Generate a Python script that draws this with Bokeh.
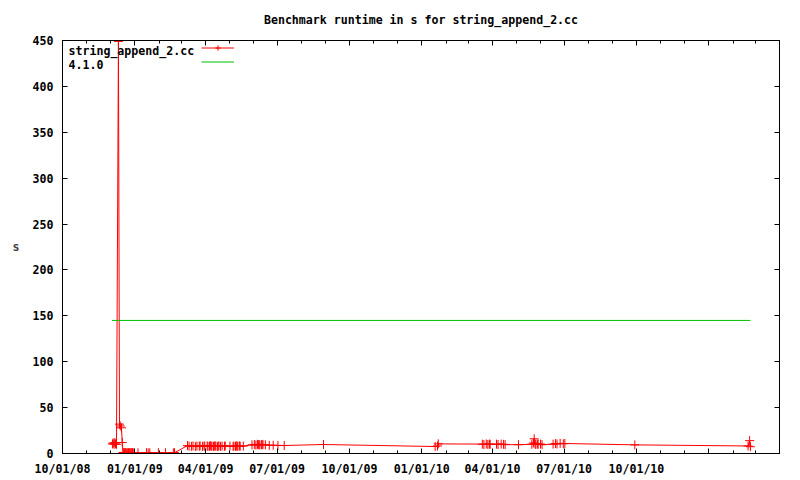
import pandas as pd
from bokeh.plotting import figure
from bokeh.models import (Range1d, FixedTicker, LinearAxis, DatetimeAxis,
                          DatetimeTickFormatter, Legend, LegendItem, Label,
                          CustomLabelingPolicy)
from bokeh.embed import file_html
from bokeh.resources import INLINE

# ---------------- data ----------------
title_text = "Benchmark runtime in s for string_append_2.cc"
series_name = "string_append_2.cc"
ref_name = "4.1.0"
y_label = "s"

run_dates = [
    "2008-12-03 12:00", "2008-12-04 12:00", "2008-12-05 12:00", "2008-12-06 12:00",
    "2008-12-07 12:00", "2008-12-08 16:00",
    "2008-12-11 04:00", "2008-12-12 12:00", "2008-12-13 12:00",
    "2008-12-15 00:00", "2008-12-16 00:00", "2008-12-17 00:00",
    "2008-12-18", "2008-12-19", "2008-12-20", "2008-12-21", "2008-12-22", "2008-12-23",
    "2008-12-24", "2008-12-25", "2008-12-26", "2008-12-27", "2008-12-28", "2008-12-29",
    "2008-12-30",
    "2009-01-05", "2009-01-15 18:00", "2009-01-18", "2009-01-20", "2009-01-31",
    "2009-02-09", "2009-02-19", "2009-02-20 12:00",
    "2009-03-09", "2009-03-11", "2009-03-14", "2009-03-16", "2009-03-19", "2009-03-21",
    "2009-03-24", "2009-03-25", "2009-03-28", "2009-03-30", "2009-03-31", "2009-04-03",
    "2009-04-04", "2009-04-06", "2009-04-07", "2009-04-08", "2009-04-09", "2009-04-11",
    "2009-04-12", "2009-04-13", "2009-04-14", "2009-04-16", "2009-04-17", "2009-04-18",
    "2009-04-20", "2009-04-22", "2009-04-25", "2009-04-26", "2009-05-02", "2009-05-06",
    "2009-05-07", "2009-05-09", "2009-05-10", "2009-05-11", "2009-05-12", "2009-05-14",
    "2009-05-15", "2009-05-19",
    "2009-05-30", "2009-06-02", "2009-06-04", "2009-06-06", "2009-06-07", "2009-06-08",
    "2009-06-09", "2009-06-11", "2009-06-12", "2009-06-13", "2009-06-16",
    "2009-06-21", "2009-06-26", "2009-07-02", "2009-07-10", "2009-08-29",
    "2010-01-18", "2010-01-21", "2010-01-22",
    "2010-03-19", "2010-03-21", "2010-03-24", "2010-03-26", "2010-03-28", "2010-03-29",
    "2010-04-06", "2010-04-08", "2010-04-12", "2010-04-15", "2010-04-17",
    "2010-05-04", "2010-05-21", "2010-05-23", "2010-05-24", "2010-05-25", "2010-05-26",
    "2010-05-28", "2010-05-29", "2010-06-01", "2010-06-03", "2010-06-17", "2010-06-20",
    "2010-06-22", "2010-06-26", "2010-06-30", "2010-07-02",
    "2010-09-29",
    "2011-02-20", "2011-02-22", "2011-02-23",
]
run_values = [
    10.5, 11.5, 10.0, 12.0,
    10.5, 10.0,
    449, 32, 30,
    28, 12, 1.2,
    0.9, 0.7, 1.0, 0.8, 0.6, 0.9,
    0.8, 1.1, 0.7, 0.9, 0.8, 1.0,
    0.7,
    0.8, 0.9, 0.7, 0.8, 0.9,
    0.8, 0.7, 0.9,
    8.6, 8.0, 7.8, 8.3, 7.6, 8.1,
    7.9, 8.4, 7.7, 8.2, 7.9, 8.3,
    7.6, 8.0, 8.5, 7.8, 8.1, 7.7,
    8.4, 7.9, 8.2, 7.6, 8.0, 8.3,
    7.8, 8.1, 7.9, 8.2, 8.0, 7.7,
    8.1, 7.9, 8.3, 7.8, 8.0, 8.2,
    7.9, 8.1,
    9.4, 9.8, 9.2, 10.0, 9.5, 9.8,
    9.3, 9.7, 9.4, 9.9, 9.5,
    8.9, 9.0, 8.8, 8.7, 9.8,
    7.6, 8.2, 10.5,
    10.2, 9.8, 10.4, 9.9, 10.3, 10.0,
    10.2, 9.8, 10.3, 10.0, 9.7,
    9.6, 10.1, 11.5, 16.0, 10.5, 9.8,
    10.4, 10.0, 10.3, 9.6, 10.2, 10.8,
    10.4, 11.0, 10.6, 10.9,
    9.4,
    8.2, 14.0, 7.4,
]

ref_dates = ["2008-12-03", "2011-02-23"]
ref_values = [145, 145]

x_start, x_end = "2008-10-01", "2011-04-01"
x_tick_dates = ["2008-10-01", "2009-01-01", "2009-04-01", "2009-07-01", "2009-10-01",
                "2010-01-01", "2010-04-01", "2010-07-01", "2010-10-01", "2011-01-01"]
x_tick_labels = ["10/01/08", "01/01/09", "04/01/09", "07/01/09", "10/01/09",
                 "01/01/10", "04/01/10", "07/01/10", "10/01/10", ""]
y_ticks = [0, 50, 100, 150, 200, 250, 300, 350, 400, 450]
y_min, y_max = 0, 450

# ---------------- style ----------------
FONT = "DejaVu Sans Mono"
FS = "11.6px"
RED = "#ff0000"
GREEN = "#00c000"
FRAME_W, FRAME_H = 717, 413


def ms(d):
    return pd.Timestamp(d).value / 1e6


run_x = pd.to_datetime(run_dates, format="ISO8601")
ref_x = pd.to_datetime(ref_dates, format="ISO8601")

p = figure(frame_width=FRAME_W, frame_height=FRAME_H, output_backend="svg",
           toolbar_location=None, x_axis_type="datetime",
           x_range=Range1d(pd.Timestamp(x_start), pd.Timestamp(x_end)),
           y_range=Range1d(y_min, y_max),
           min_border_left=62, min_border_right=13, min_border_top=40,
           min_border_bottom=19)
p.title.text = title_text
p.title.align = "center"
p.title.text_font = FONT
p.title.text_font_size = FS
p.title.text_font_style = "bold"
p.title.text_color = "black"
p.title.standoff = 20

p.xgrid.visible = False
p.ygrid.visible = False
p.outline_line_color = "black"
p.outline_line_width = 1
p.background_fill_color = "white"
p.border_fill_color = "white"

major_ms = [ms(d) for d in x_tick_dates]
minor_ms = [ms(d) for d in pd.date_range(x_start, x_end, freq="MS")]
xticker = FixedTicker(ticks=major_ms, minor_ticks=minor_ms)
yticker = FixedTicker(ticks=y_ticks, minor_ticks=[])

fmt = "%m/%d/%y"
xfmt = DatetimeTickFormatter(milliseconds=fmt, seconds=fmt, minsec=fmt, minutes=fmt,
                             hourmin=fmt, hours=fmt, days=fmt, months=fmt, years=fmt)

no_labels = CustomLabelingPolicy(
    code="const ones = Array.from(indices); for (const i of ones) { indices.set(i, false) } return indices")


def style_axis(ax, show_labels=True):
    ax.axis_line_color = "black"
    ax.major_tick_in = 5
    ax.major_tick_out = 0
    ax.minor_tick_in = 3
    ax.minor_tick_out = 0
    ax.major_tick_line_color = "black"
    ax.minor_tick_line_color = "black"
    ax.major_label_text_font = FONT
    ax.major_label_text_font_style = "bold"
    ax.major_label_text_color = "black"
    ax.major_label_text_font_size = FS
    if not show_labels:
        # mirrored gnuplot-style ticks: no labels, and no room kept for them
        ax.major_label_policy = no_labels
        ax.major_label_standoff = 0
        ax.major_label_text_font_size = "1px"


xax = p.xaxis[0]
xax.ticker = xticker
xax.formatter = xfmt
xax.major_label_overrides = {m: lab for m, lab in zip(major_ms, x_tick_labels)}
style_axis(xax)
xax.major_label_standoff = 8

yax = p.yaxis[0]
yax.ticker = yticker
style_axis(yax)
yax.major_label_standoff = 9
yax.axis_label = y_label
yax.axis_label_orientation = "horizontal"
yax.axis_label_text_font = FONT
yax.axis_label_text_font_size = FS
yax.axis_label_text_font_style = "bold"
yax.axis_label_standoff = 10

top_ax = DatetimeAxis(ticker=xticker, formatter=xfmt)
style_axis(top_ax, show_labels=False)
p.add_layout(top_ax, "above")

right_ax = LinearAxis(ticker=yticker)
style_axis(right_ax, show_labels=False)
p.add_layout(right_ax, "right")

# ---------------- data renderers ----------------
red_line = p.line(run_x, run_values, line_color=RED, line_width=1)
red_pts = p.scatter(run_x, run_values, marker="cross", size=9, line_color=RED,
                    line_width=1)
green_line = p.line(ref_x, ref_values, line_color=GREEN, line_width=1)

# ---------------- legend (gnuplot style: text left, sample right) ----------------
legend = Legend(items=[LegendItem(label=" ", renderers=[red_line, red_pts]),
                       LegendItem(label=" ", renderers=[green_line])],
                location=(139, 385), padding=0, spacing=1, margin=0,
                glyph_width=33, glyph_height=13, label_height=13, label_width=0,
                label_standoff=0, label_text_font_size="1px",
                background_fill_alpha=0, border_line_alpha=0)
p.add_layout(legend)

for txt, yy in [(series_name, 403), (ref_name, 389)]:
    p.add_layout(Label(x=6, y=yy, x_units="screen", y_units="screen", text=txt,
                       text_font=FONT, text_font_size=FS, text_font_style="bold",
                       text_color="black", text_baseline="alphabetic"))

open("out.html", "w").write(file_html(p, INLINE))
